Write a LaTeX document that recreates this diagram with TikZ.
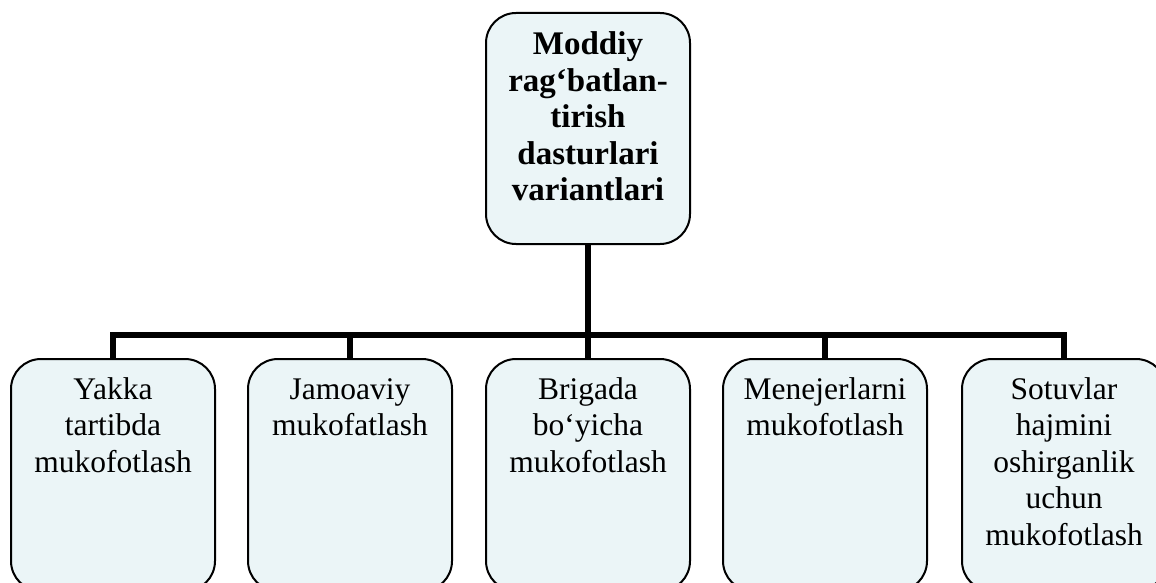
\documentclass[tikz,border=0pt]{standalone}
\usepackage{fontspec}
\setmainfont{Liberation Serif}
\definecolor{boxfill}{RGB}{235,245,247}
\tikzset{
  stepbox/.style={draw=black, line width=2pt, fill=boxfill, rounded corners=30pt,
    inner sep=0pt, minimum width=204pt, anchor=north},
  link/.style={draw=black, line width=6pt},
}
\newcommand{\boxtext}[4]{\parbox[c][#1][t]{198pt}{\centering\fontsize{#4}{36.5pt}\selectfont\rule{0pt}{#2}#3\par}}
\begin{document}
\begin{tikzpicture}[x=1pt,y=-1pt]
\useasboundingbox (0,0) rectangle (1156,583);
\clip (0,0) rectangle (1156,583);
\node[stepbox] (top) at (588,12) {\boxtext{231pt}{42pt}{\bfseries Moddiy\\ rag‘batlan-\\ tirish\\ dasturlari\\ variantlari}{33pt}};
\node[stepbox] (b1) at (113,358) {\boxtext{232pt}{40pt}{Yakka\\ tartibda\\ mukofotlash}{31.5pt}};
\node[stepbox] (b2) at (350,358) {\boxtext{232pt}{40pt}{Jamoaviy\\ mukofatlash}{31.5pt}};
\node[stepbox] (b3) at (588,358) {\boxtext{232pt}{40pt}{Brigada\\ bo‘yicha\\ mukofotlash}{31.5pt}};
\node[stepbox] (b4) at (825,358) {\boxtext{232pt}{40pt}{Menejerlarni\\ mukofotlash}{31.5pt}};
\node[stepbox] (b5) at (1064,358) {\boxtext{232pt}{40pt}{Sotuvlar\\ hajmini\\ oshirganlik\\ uchun\\ mukofotlash}{31.5pt}};
\coordinate (bar) at (0,335);
\draw[link] (top.south) -- (top.south |- bar);
\draw[link] (b1.north) -- (b1.north |- bar) -- (b5.north |- bar) -- (b5.north);
\foreach \n in {b2,b3,b4} \draw[link] (\n.north) -- (\n.north |- bar);
\end{tikzpicture}
\end{document}
